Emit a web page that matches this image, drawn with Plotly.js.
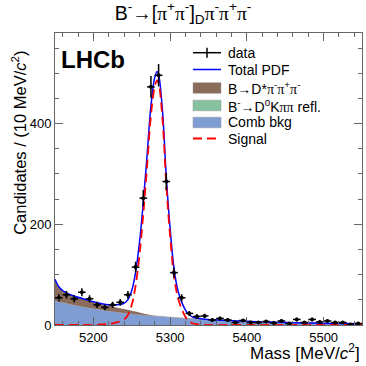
<!DOCTYPE html>
<html>
<head>
<meta charset="utf-8">
<script src="https://cdn.plot.ly/plotly-3.0.1.min.js"></script>
<style>
  html, body { margin: 0; padding: 0; background: white; }
  #plot { width: 366px; height: 366px; }
</style>
</head>
<body>
<div id="plot"></div>
<script>
// ================================
// B- -> [pi pi]_D pi pi pi mass fit
// ================================

// Data: 10 MeV bins, centres
const binMass = [5155, 5165, 5175, 5185, 5195, 5205, 5215, 5225, 5235, 5245,
  5255, 5265, 5275, 5285, 5295, 5305, 5315, 5325, 5335, 5345,
  5355, 5365, 5375, 5385, 5395, 5405, 5415, 5425, 5435, 5445,
  5455, 5465, 5475, 5485, 5495, 5505, 5515, 5525, 5535, 5545];
const binCounts = [54, 60, 52, 65, 52, 40, 35, 40, 45, 60,
  115, 252, 473, 496, 285, 104, 54, 23, 17, 18,
  10, 13, 10, 5, 9, 5, 5, 7, 4, 8,
  3, 11, 5, 11, 6, 8, 5, 5, 1, 3];

// Fit components
const curveMass = [5150, 5155, 5160, 5165, 5170, 5180, 5190, 5200, 5210, 5220,
  5230, 5240, 5245, 5250, 5255, 5260, 5265, 5270, 5275, 5280,
  5283, 5285, 5290, 5295, 5300, 5305, 5310, 5315, 5320, 5325,
  5330, 5340, 5350, 5375, 5400, 5425, 5450, 5475, 5500, 5525, 5550];
const combBkg = [48, 46, 44.5, 43, 41, 38, 35.5, 33, 30.5, 28,
  26, 24, 23.3, 22.5, 21.6, 20.8, 20, 19.4, 18.6, 18,
  17.6, 17.3, 16.7, 16.1, 15.5, 15, 14.4, 13.9, 13.4, 12.9,
  12.4, 11.5, 10.7, 8.8, 7.3, 6, 5, 4.2, 3.5, 2.9, 2.4];
const reflBkg = [0, 0, 0, 0, 0, 0, 0, 0, 0, 0,
  0, 0, 0, 0, 0, 0, 0, 0, 0, 0,
  0, 0, 0, 0, 0, 0, 0, 0, 0, 0,
  0, 0, 0, 0, 0, 0, 0, 0, 0, 0, 0];
const dstarBkg = [43, 30, 24, 21, 19, 17, 15, 13, 11, 10,
  9, 8, 7, 6, 5, 4, 3, 2, 1, 0,
  0, 0, 0, 0, 0, 0, 0, 0, 0, 0,
  0, 0, 0, 0, 0, 0, 0, 0, 0, 0, 0];
const signal = [0, 0, 0, 0, 0, 0, 0, 0, 1, 2,
  5, 11, 20, 40, 78, 138, 220, 316, 416, 474,
  486, 480, 410, 278, 176, 98, 55, 32, 16, 7,
  3, 1, 0, 0, 0, 0, 0, 0, 0, 0, 0];

const totalPdf = curveMass.map((m, i) => signal[i] + combBkg[i] + reflBkg[i] + dstarBkg[i]);
const binErr = binCounts.map(n => Math.sqrt(n));
const halfBin = binMass.map(() => 5);

const pi = '<span style="font-family:\'Liberation Serif\'">π</span>';

// legend labels, top to bottom
const legendLabels = [
  "data",
  "Total PDF",
  "B→D*" + pi + "<sup>-</sup>" + pi + "<sup>+</sup>" + pi + "<sup>-</sup>",
  "B<sup>-</sup>→D<sup>0</sup>K" + pi + pi + " refl.",
  "Comb bkg",
  "Signal"
];

// -------------------------------
// TRACES
// -------------------------------
const comb = {
  x: curveMass, y: combBkg, mode: "lines", stackgroup: "bkg", showlegend: false,
  line: { color: "#a8a8b8", width: 1, shape: "spline" },
  fillcolor: "#7f9dd3"
};
const refl = {
  x: curveMass, y: reflBkg, mode: "lines", stackgroup: "bkg", showlegend: false,
  line: { color: "#86c29f", width: 0, shape: "spline" },
  fillcolor: "#86c29f"
};
const dstar = {
  x: curveMass, y: dstarBkg, mode: "lines", stackgroup: "bkg", showlegend: false,
  line: { color: "#8b6b5a", width: 0, shape: "spline" },
  fillcolor: "#8b6b5a"
};
const total = {
  x: curveMass, y: totalPdf, mode: "lines", showlegend: false,
  line: { color: "#0000ff", width: 1.5, shape: "spline" }
};
const sig = {
  x: curveMass, y: signal, mode: "lines", showlegend: false,
  line: { color: "#ff0000", width: 1.8, dash: "9px,5px", shape: "spline" }
};
const data = {
  x: binMass, y: binCounts, mode: "markers", showlegend: false,
  marker: { color: "black", size: 4 },
  error_y: { type: "data", array: binErr, color: "black", thickness: 1.5, width: 0 },
  error_x: { type: "data", array: halfBin, color: "black", thickness: 1.5, width: 0 }
};

// -------------------------------
// HAND-MADE LEGEND (ROOT style boxes)
// -------------------------------
const px = v => (v - 55) / 307;     // pixel -> paper x
const py = v => (325 - v) / 292;    // pixel -> paper y
const rowY = [52.7, 69.5, 88, 105.5, 122.5, 138.5];
const keyL = 193, keyR = 221, textX = 226;
const legendShapes = [
  { type: "line", x0: px(keyL), x1: px(keyR), y0: py(rowY[0]), y1: py(rowY[0]), line: { color: "black", width: 1.5 } },
  { type: "line", x0: px(207), x1: px(207), y0: py(rowY[0] - 5), y1: py(rowY[0] + 5), line: { color: "black", width: 1.5 } },
  { type: "line", x0: px(keyL), x1: px(keyR), y0: py(rowY[1]), y1: py(rowY[1]), line: { color: "#0000ff", width: 1.5 } },
  { type: "rect", x0: px(keyL), x1: px(keyR), y0: py(rowY[2] - 5.3), y1: py(rowY[2] + 5.3), fillcolor: "#8b6b5a", line: { color: "#9a9a9a", width: 0.5 } },
  { type: "rect", x0: px(keyL), x1: px(keyR), y0: py(rowY[3] - 5.3), y1: py(rowY[3] + 5.3), fillcolor: "#86c29f", line: { color: "#9a9a9a", width: 0.5 } },
  { type: "rect", x0: px(keyL), x1: px(keyR), y0: py(rowY[4] - 5.3), y1: py(rowY[4] + 5.3), fillcolor: "#7f9dd3", line: { color: "#9a9a9a", width: 0.5 } },
  { type: "line", x0: px(keyL), x1: px(keyR), y0: py(rowY[5]), y1: py(rowY[5]), line: { color: "#ff0000", width: 1.8, dash: "9px,5px" } }
].map(s => Object.assign({ xref: "paper", yref: "paper", layer: "above" }, s));

const legendText = legendLabels.map((t, i) => ({
  text: t, xref: "paper", yref: "paper", x: px(textX), y: py(rowY[i]),
  xanchor: "left", yanchor: "middle", showarrow: false, font: { size: 14 }
}));

const axisCommon = {
  showgrid: false, zeroline: false, showline: true, linecolor: "#666", linewidth: 1,
  mirror: "allticks", ticks: "inside", ticklen: 8, tickcolor: "#666",
  tickfont: { family: "Liberation Sans, Arial", size: 13, color: "black" }
};

const layout = {
  width: 366, height: 366,
  margin: { l: 55, r: 4, t: 33, b: 41 },
  paper_bgcolor: "white", plot_bgcolor: "white",
  font: { family: "Liberation Sans, Arial", color: "black" },
  showlegend: false,
  title: {
    text: "B<sup>-</sup>→[" + pi + "<sup>+</sup>" + pi + "<sup>-</sup>]<sub>D</sub>" + pi + "<sup>-</sup>" + pi + "<sup>+</sup>" + pi + "<sup>-</sup>",
    x: 0.5, xref: "container", y: 0.965, yref: "container", yanchor: "middle",
    font: { size: 19.5 }
  },
  xaxis: Object.assign({}, axisCommon, {
    range: [5150, 5550], tick0: 5200, dtick: 100,
    minor: { dtick: 20, ticklen: 4, ticks: "inside", tickcolor: "#666" }
  }),
  yaxis: Object.assign({}, axisCommon, {
    range: [0, 580], tick0: 0, dtick: 200,
    minor: { dtick: 50, ticklen: 4, ticks: "inside", tickcolor: "#666" }
  }),
  shapes: legendShapes,
  annotations: [
    { text: "<b>LHCb</b>", xref: "paper", yref: "paper", x: 0.014, y: 0.962,
      xanchor: "left", yanchor: "top", showarrow: false, font: { size: 24 } },
    { text: "Mass [MeV/<i>c</i><sup>2</sup>]", xref: "paper", yref: "paper", x: 1.0, y: -0.093,
      xanchor: "right", yanchor: "middle", showarrow: false, font: { size: 17 } },
    { text: "Candidates / (10 MeV/<i>c</i><sup>2</sup>)", xref: "paper", yref: "paper",
      x: -0.117, y: 0.624, xanchor: "center", yanchor: "middle", textangle: -90,
      showarrow: false, font: { size: 16.5 } }
  ].concat(legendText)
};

Plotly.newPlot("plot", [comb, refl, dstar, total, sig, data], layout, { displayModeBar: false, staticPlot: true });
</script>
</body>
</html>
